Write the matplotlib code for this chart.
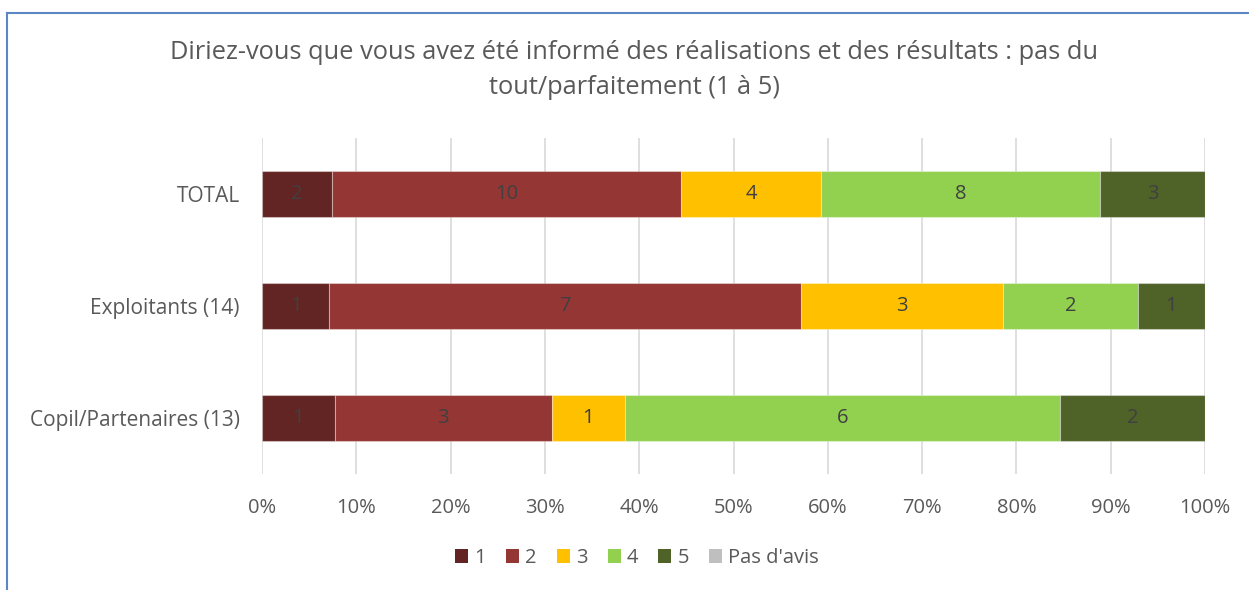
import matplotlib
matplotlib.use("Agg")
import matplotlib.pyplot as plt
from matplotlib.patches import Patch
from matplotlib.lines import Line2D
import numpy as np

categories = ["TOTAL", "Exploitants (14)", "Copil/Partenaires (13)"]
series_names = ["1", "2", "3", "4", "5", "Pas d'avis"]
values = {
    "1": [2, 1, 1],
    "2": [10, 7, 3],
    "3": [4, 3, 1],
    "4": [8, 2, 6],
    "5": [3, 1, 2],
    "Pas d'avis": [0, 0, 0],
}
colors = ["#632523", "#943634", "#FFC000", "#92D050", "#4F6228", "#BFBFBF"]
xticks = [0, 10, 20, 30, 40, 50, 60, 70, 80, 90, 100]
title = "Diriez-vous que vous avez été informé des réalisations et des résultats : pas du\ntout/parfaitement (1 à 5)"

plt.rcParams['font.family'] = ['Open Sans', 'DejaVu Sans']
txt = "#595959"

W, H = 1249, 590
fig = plt.figure(figsize=(W / 100, H / 100), dpi=100)
ax = fig.add_axes([262 / W, 1 - 474 / H, (1205 - 262) / W, (474 - 138) / H])

totals = np.sum([values[s] for s in series_names], axis=0)
y = np.arange(len(categories))
left = np.zeros(len(categories))
for s, c in zip(series_names, colors):
    v = np.array(values[s], dtype=float)
    pct = v / totals * 100
    ax.barh(y, pct, left=left, height=0.41, color=c, edgecolor=(1, 1, 1, 0.35), linewidth=0.8, zorder=3)
    for i in range(len(y)):
        if v[i] > 0:
            ax.text(left[i] + pct[i] / 2, y[i], f"{int(v[i])}", ha="center", va="center",
                    fontsize=14.5, color="#404040", zorder=4)
    left += pct

ax.set_ylim(2.5, -0.5)
ax.set_xlim(0, 100)
ax.set_yticks(y)
ax.set_yticklabels(categories, fontsize=15, color=txt)
ax.set_xticks(xticks)
ax.set_xticklabels([f"{t}%" for t in xticks], fontsize=14.5, color=txt)
ax.tick_params(axis="both", length=0)
ax.tick_params(axis="y", pad=16)
ax.tick_params(axis="x", pad=17)
ax.grid(axis="x", color="#D9D9D9", linewidth=1.2, zorder=0)
for sp in ax.spines.values():
    sp.set_visible(False)

fig.text(634 / W, 1 - 70 / H, title, ha="center", va="center", fontsize=18.3, color=txt, linespacing=1.5)

handles = [Patch(facecolor=c, edgecolor="none") for c in colors]
fig.legend(handles, series_names, loc="center", bbox_to_anchor=(637 / W, 1 - 558 / H), ncol=6,
           frameon=False, fontsize=14.5, labelcolor=txt, handlelength=0.65, handleheight=0.65,
           handletextpad=0.3, columnspacing=1.0)

fig.add_artist(Line2D([7 / W, 7 / W], [0, 1 - 13 / H], transform=fig.transFigure, color="#5B87C5", linewidth=1.5))
fig.add_artist(Line2D([7 / W, 1], [1 - 13 / H, 1 - 13 / H], transform=fig.transFigure, color="#5B87C5", linewidth=1.5))

fig.savefig("out.png", dpi=100)
